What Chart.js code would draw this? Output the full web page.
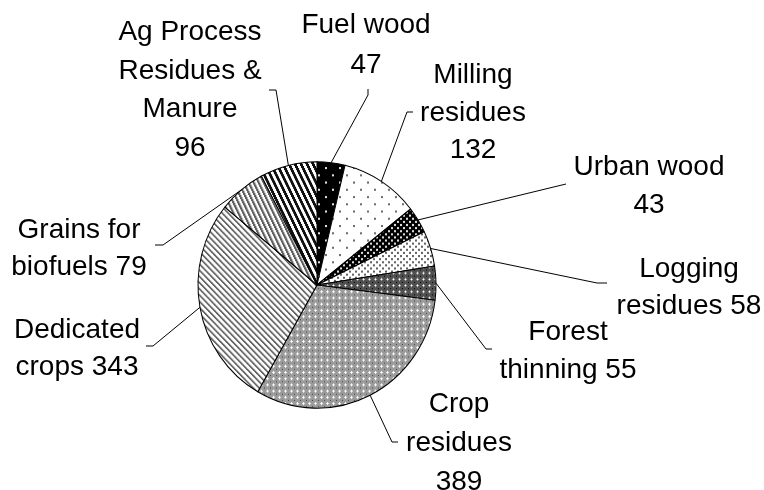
<!DOCTYPE html>
<html>
<head>
<meta charset="utf-8">
<script src="https://cdn.jsdelivr.net/npm/chart.js@4.4.1/dist/chart.umd.min.js"></script>
<style>
html,body{margin:0;padding:0;background:#fff;}
#wrap{width:764px;height:490px;position:relative;}
</style>
</head>
<body>
<div id="wrap"><canvas id="c" width="764" height="490"></canvas></div>
<script>
// ---- data ----
const categories = ['Fuel wood','Milling residues','Urban wood','Logging residues','Forest thinning','Crop residues','Dedicated crops','Grains for biofuels','Ag Process Residues & Manure'];
const values = [47,132,43,58,55,389,343,79,96];
const labelTemplates = ['Fuel wood|{v}','Milling|residues|{v}','Urban wood|{v}','Logging|residues {v}','Forest|thinning {v}','Crop|residues|{v}','Dedicated|crops {v}','Grains for|biofuels {v}','Ag Process|Residues &|Manure|{v}'];

// ---- layout (label anchor, leader elbow & end) ----
const labelLayout = [
  {x:366, y:33,  lh:39.5, elbow:[368,95],  end:[368,89]},
  {x:473, y:83,  lh:37.5, elbow:[407,112], end:[413,112]},
  {x:649, y:175, lh:38,   elbow:[566,184], end:[566,184]},
  {x:689, y:277, lh:36.5, elbow:[597,283], end:[607,283]},
  {x:568, y:340, lh:38,   elbow:[486,349], end:[492,349]},
  {x:459, y:412, lh:39,   elbow:[392,442], end:[398,442]},
  {x:77,  y:338, lh:37,   elbow:[153,346], end:[146,346]},
  {x:79,  y:238, lh:37,   elbow:[163,245], end:[155,245]},
  {x:190, y:40,  lh:38.7, elbow:[276,90],  end:[269,90]}
];
const yScale = 1.035;

const canvas = document.getElementById('c');
const ctx0 = canvas.getContext('2d');

function tile(w, h, bg, fn){
  const c = document.createElement('canvas');
  c.width = w; c.height = h;
  const g = c.getContext('2d');
  const img = g.createImageData(w, h);
  for(let y=0;y<h;y++){
    for(let x=0;x<w;x++){
      const col = fn(x,y) || bg;
      const i = (y*w+x)*4;
      img.data[i]=col[0]; img.data[i+1]=col[1]; img.data[i+2]=col[2]; img.data[i+3]=255;
    }
  }
  g.putImageData(img,0,0);
  return ctx0.createPattern(c,'repeat');
}
const W=[255,255,255], K=[0,0,0];
function dots(n, pts, col){
  return (x,y)=>{
    for(const p of pts){ if((x===p[0]||x===p[0]+1)&&(y===p[1]||y===p[1]+1)) return col; }
    return null;
  };
}
const patterns = [
  tile(14,14,K, dots(14,[[3,3],[10,10]],[225,225,225])),
  tile(14,14,W, dots(14,[[3,3],[10,10]],[110,110,110])),
  tile(6,6,K, dots(6,[[1,1],[4,4]],[220,220,220])),
  tile(6,6,W, dots(6,[[1,1],[4,4]],[100,100,100])),
  tile(6,6,[80,80,80], (x,y)=>{
    if(x===3&&y===3) return W;
    if((x===2||x===4)&&y===3 || (y===2||y===4)&&x===3) return [185,185,185];
    if(x===0&&y===0) return K;
    return null;}),
  tile(6,6,[155,155,155], (x,y)=>{
    if(x===3&&y===3) return W;
    if((x===2||x===4)&&y===3 || (y===2||y===4)&&x===3) return [240,240,240];
    if(x===0&&y===0) return [70,70,70];
    return null;}),
  tile(6,6,W, (x,y)=>{ const m=((x-y)%6+6)%6; return m<2?[100,100,100]:(m===2?[195,195,195]:null); }),
  tile(5,10,W, (x,y)=>{ const m=((x-Math.floor(y/2))%5+5)%5; return m<2?[95,95,95]:(m===2?[185,185,185]:null); }),
  tile(6,12,W, (x,y)=>{ const m=((x-Math.floor(y/2))%6+6)%6; return m<3?[15,15,15]:null; })
];

const ellipsePlugin = {
  id:'ellipse',
  beforeDatasetsDraw(chart){
    const a = chart.getDatasetMeta(0).data[0];
    const c = chart.ctx;
    c.save();
    c.translate(a.x, a.y); c.scale(1, yScale); c.translate(-a.x, -a.y);
  },
  afterDatasetsDraw(chart){ chart.ctx.restore(); }
};

const labelPlugin = {
  id:'labels',
  afterDraw(chart){
    const c = chart.ctx;
    const meta = chart.getDatasetMeta(0);
    c.save();
    c.strokeStyle = '#000';
    c.lineWidth = 1;
    meta.data.forEach((arc, i)=>{
      const L = labelLayout[i];
      const mid = (arc.startAngle + arc.endAngle)/2;
      const sx = arc.x + arc.outerRadius*Math.cos(mid);
      const sy = arc.y + arc.outerRadius*yScale*Math.sin(mid);
      c.beginPath();
      c.moveTo(sx, sy);
      c.lineTo(L.elbow[0], L.elbow[1]);
      c.lineTo(L.end[0], L.end[1]);
      c.stroke();
    });
    c.fillStyle = '#000';
    c.font = '28px "Liberation Sans", Arial, sans-serif';
    c.textAlign = 'center';
    c.textBaseline = 'alphabetic';
    categories.forEach((cat, i)=>{
      const L = labelLayout[i];
      const lines = labelTemplates[i].replace('{v}', String(values[i])).split('|');
      lines.forEach((t, j)=> c.fillText(t, L.x, L.y + j*L.lh));
    });
    c.restore();
  }
};

new Chart(canvas, {
  type:'pie',
  data:{
    labels: categories,
    datasets:[{
      data: values,
      backgroundColor: patterns,
      borderColor:'#000',
      borderWidth:1
    }]
  },
  options:{
    responsive:false,
    animation:false,
    radius:119,
    layout:{padding:{left:0,right:130,top:80,bottom:0}},
    plugins:{legend:{display:false},tooltip:{enabled:false}}
  },
  plugins:[ellipsePlugin, labelPlugin]
});
</script>
</body>
</html>
